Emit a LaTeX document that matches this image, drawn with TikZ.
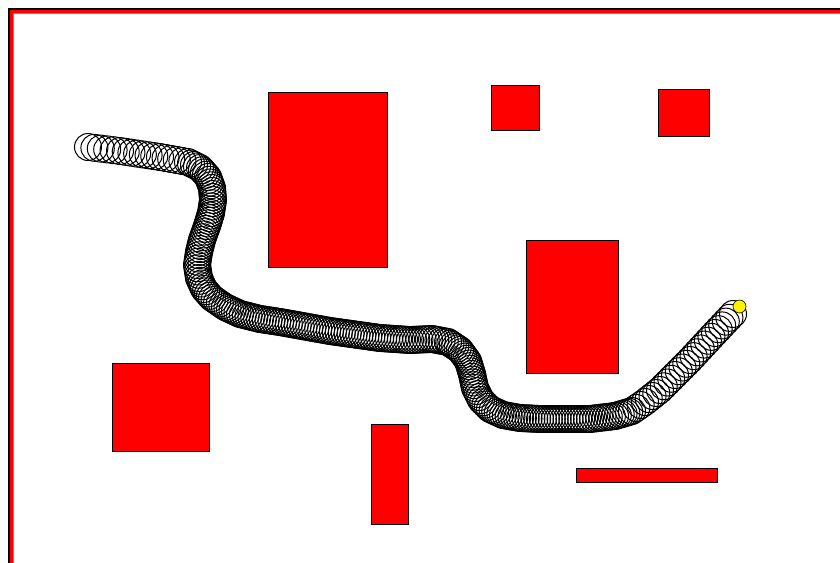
\documentclass[tikz,border=0pt]{standalone}
\usetikzlibrary{calc}
\newcommand\mytrail[4]{%
 \foreach \bx/\by [remember=\bx as \ax (initially #2), remember=\by as \ay (initially #3)] in {#4} {%
   \pgfmathsetmacro\seglen{veclen(\bx-\ax,\by-\ay)}%
   \pgfmathtruncatemacro\nsteps{max(1,round(\seglen/#1))}%
   \foreach \i in {1,...,\nsteps} {%
     \pgfmathsetmacro\frac{\i/\nsteps}%
     \draw[ring] ($(\ax,\ay)!\frac!(\bx,\by)$) circle (13.5pt);
   }%
 }}
\begin{document}
\begin{tikzpicture}[x=1pt,y=-1pt,
  obst/.style={fill=red, draw=black, line width=1pt},
  ring/.style={draw=black, line width=1pt}]
\useasboundingbox (0,0) rectangle (840,562);
\clip (0,0) rectangle (840,562);
\fill[white] (0,0) rectangle (840,562);
% frame
\draw[line width=6pt, black!45] (11,11) rectangle (880,600);
\draw[line width=5pt, black] (10.5,10.5) rectangle (880,600);
\draw[line width=3pt, red] (11.5,11.5) rectangle (880,600);
% obstacles
\draw[obst] (268,92) rectangle (387,267);
\draw[obst] (491,85) rectangle (539,130);
\draw[obst] (658,89) rectangle (709,136);
\draw[obst] (526,240) rectangle (618,373);
\draw[obst] (112,363) rectangle (209,451);
\draw[obst] (371,424) rectangle (408,524);
\draw[obst] (576,468) rectangle (717,482);
% trail
\draw[ring] (88,147) circle (13.5pt);
\mytrail{6}{88}{147}{120/151, 160/157, 188/162}
\mytrail{3}{188}{162}{200/168, 208/177, 212/188, 213/200, 211/213, 207/226, 202/240, 199/252, 197/265, 199/278, 204/289, 212/298, 225/307, 240/314, 260/319, 280/322, 330/331, 380/338, 410/340, 432/339, 448/342, 460/350, 468/361, 472/374, 475/388, 481/400, 490/409, 503/415, 520/418, 540/419, 590/419, 615/416, 632/411}
\mytrail{5}{632}{411}{645/402, 660/390, 690/360, 715/333, 733/314}
\draw[fill=yellow, draw=black, line width=0.6pt] (739.5,306.5) circle (6.5pt);
\end{tikzpicture}
\end{document}
